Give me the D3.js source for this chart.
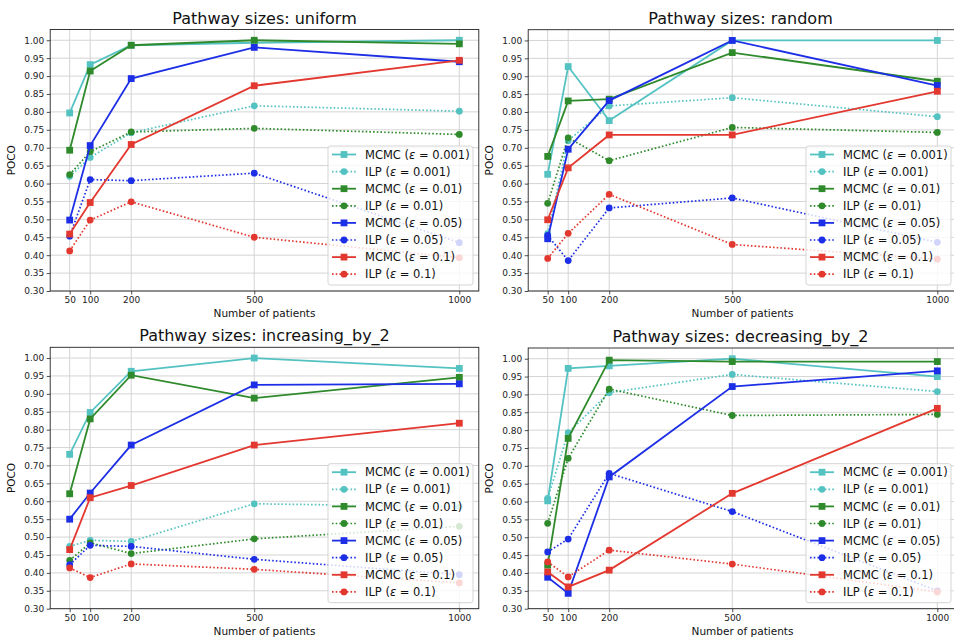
<!DOCTYPE html>
<html>
<head>
<meta charset="utf-8">
<script src="https://cdn.jsdelivr.net/npm/d3@7"></script>
<style>
  html, body { margin: 0; padding: 0; background: #fff; }
  svg { display: block; }
  text { font-family: "DejaVu Sans", sans-serif; }
</style>
</head>
<body>
<svg id="chart" width="954" height="637"></svg>
<script>
// ---------------- data ----------------
const patients = [50, 100, 200, 500, 1000];
const yTickValues = [0.30, 0.35, 0.40, 0.45, 0.50, 0.55, 0.60, 0.65, 0.70, 0.75, 0.80, 0.85, 0.90, 0.95, 1.00];
const panelTitles = ["Pathway sizes: uniform", "Pathway sizes: random", "Pathway sizes: increasing_by_2", "Pathway sizes: decreasing_by_2"];
const methods = ["MCMC", "ILP", "MCMC", "ILP", "MCMC", "ILP", "MCMC", "ILP"];
const epsilons = ["0.001", "0.001", "0.01", "0.01", "0.05", "0.05", "0.1", "0.1"];
const seriesColors = ["#55c2c2", "#55c2c2", "#2f8a2c", "#2f8a2c", "#1d2fe6", "#1d2fe6", "#e3382f", "#e3382f"];

// rows follow the legend order: MCMC .001, ILP .001, MCMC .01, ILP .01, MCMC .05, ILP .05, MCMC .1, ILP .1
const uniformValues = [
  [0.797, 0.932, 0.986, 0.993, 1.000],
  [0.620, 0.673, 0.742, 0.817, 0.802],
  [0.693, 0.914, 0.986, 1.000, 0.990],
  [0.625, 0.689, 0.744, 0.754, 0.737],
  [0.498, 0.706, 0.893, 0.980, 0.940],
  [0.453, 0.611, 0.608, 0.629, 0.435],
  [0.459, 0.547, 0.709, 0.873, 0.944],
  [0.412, 0.498, 0.549, 0.450, 0.393]
];
const randomValues = [
  [0.626, 0.927, 0.776, 1.000, 1.000],
  [0.460, 0.720, 0.817, 0.840, 0.787],
  [0.676, 0.831, 0.836, 0.966, 0.886],
  [0.545, 0.728, 0.664, 0.757, 0.743],
  [0.446, 0.696, 0.832, 1.000, 0.874],
  [0.455, 0.385, 0.532, 0.560, 0.436],
  [0.499, 0.644, 0.736, 0.736, 0.858],
  [0.391, 0.461, 0.570, 0.430, 0.389]
];
const increasingValues = [
  [0.731, 0.848, 0.963, 1.000, 0.971],
  [0.474, 0.491, 0.488, 0.593, 0.585],
  [0.621, 0.830, 0.952, 0.888, 0.946],
  [0.435, 0.484, 0.454, 0.495, 0.530],
  [0.550, 0.623, 0.757, 0.925, 0.928],
  [0.423, 0.477, 0.474, 0.438, 0.395],
  [0.465, 0.610, 0.644, 0.757, 0.818],
  [0.414, 0.387, 0.425, 0.410, 0.372]
];
const decreasingValues = [
  [0.602, 0.973, 0.980, 1.000, 0.950],
  [0.609, 0.793, 0.905, 0.956, 0.908],
  [0.422, 0.777, 0.996, 0.992, 0.992],
  [0.539, 0.721, 0.915, 0.841, 0.844],
  [0.388, 0.343, 0.669, 0.922, 0.966],
  [0.459, 0.495, 0.679, 0.572, 0.350],
  [0.403, 0.361, 0.408, 0.623, 0.861],
  [0.431, 0.389, 0.464, 0.425, 0.347]
];
const panelValues = [uniformValues, randomValues, increasingValues, decreasingValues];

// ---------------- layout ----------------
const layouts = [
  { left: 50.2,  right: 478.8, top: 29.5,  bottom: 291.0, legendRight: 473.0, labelX: 264.5 },
  { left: 528.2, right: 956.8, top: 29.7,  bottom: 291.0, legendRight: 951.0, labelX: 742.5 },
  { left: 50.2,  right: 478.8, top: 347.3, bottom: 608.7, legendRight: 473.0, labelX: 264.5 },
  { left: 528.2, right: 956.8, top: 348.0, bottom: 608.7, legendRight: 951.0, labelX: 742.5 }
];
const dotPattern = "1.6,2.1";

const svg = d3.select("#chart");

panelValues.forEach((values, pi) => {
  const L = layouts[pi];
  const x = d3.scaleLinear().domain([2.5, 1047.5]).range([L.left, L.right]);
  const y = d3.scaleLinear().domain([0.30, 1.03]).range([L.bottom, L.top]);
  const g = svg.append("g");

  // grid
  g.append("g").selectAll("line").data(yTickValues).join("line")
    .attr("x1", L.left).attr("x2", L.right)
    .attr("y1", d => y(d)).attr("y2", d => y(d))
    .attr("stroke", "#d4d4d4").attr("stroke-width", 1);
  g.append("g").selectAll("line").data(patients).join("line")
    .attr("y1", L.top).attr("y2", L.bottom)
    .attr("x1", d => x(d)).attr("x2", d => x(d))
    .attr("stroke", "#d4d4d4").attr("stroke-width", 1);

  // axes
  const yAxis = d3.axisLeft(y).tickValues(yTickValues).tickFormat(d3.format(".2f")).tickSize(3.5).tickPadding(2.5);
  const xAxis = d3.axisBottom(x).tickValues(patients).tickFormat(d3.format("d")).tickSize(3.5).tickPadding(2.5);
  const ya = g.append("g").attr("transform", `translate(${L.left},0)`).call(yAxis);
  const xa = g.append("g").attr("transform", `translate(0,${L.bottom})`).call(xAxis);
  [ya, xa].forEach(a => {
    a.select(".domain").remove();
    a.selectAll("text").attr("font-size", 9).attr("fill", "#222").attr("font-family", "DejaVu Sans");
    a.selectAll("line").attr("stroke", "#222").attr("stroke-width", 0.8);
  });

  // spines
  g.append("rect").attr("x", L.left).attr("y", L.top)
    .attr("width", L.right - L.left).attr("height", L.bottom - L.top)
    .attr("fill", "none").attr("stroke", "#222").attr("stroke-width", 0.9);

  // series
  const line = d3.line().x((d, i) => x(patients[i])).y(d => y(d));
  const data = g.append("g");
  values.forEach((row, si) => {
    const col = seriesColors[si];
    const isILP = methods[si] === "ILP";
    data.append("path").datum(row).attr("d", line)
      .attr("fill", "none").attr("stroke", col)
      .attr("stroke-width", isILP ? 1.7 : 1.8)
      .attr("stroke-dasharray", isILP ? dotPattern : null);
    if (isILP) {
      data.append("g").selectAll("circle").data(row).join("circle")
        .attr("cx", (d, i) => x(patients[i])).attr("cy", d => y(d))
        .attr("r", 3.4).attr("fill", col);
    } else {
      data.append("g").selectAll("rect").data(row).join("rect")
        .attr("x", (d, i) => x(patients[i]) - 3.4).attr("y", d => y(d) - 3.4)
        .attr("width", 6.8).attr("height", 6.8).attr("fill", col);
    }
  });

  // title and labels
  g.append("text").attr("x", (L.left + L.right) / 2 - (pi % 2 ? 2 : 0)).attr("y", L.top - 6)
    .attr("text-anchor", "middle").attr("font-size", 16).attr("fill", "#111")
    .text(panelTitles[pi]);
  g.append("text").attr("x", L.labelX)
    .attr("y", L.bottom + 26).attr("text-anchor", "middle")
    .attr("font-size", 10.5).attr("fill", "#111").text("Number of patients");
  const ly = (L.top + L.bottom) / 2;
  const lx = L.left - 35;
  g.append("text").attr("transform", `translate(${lx},${ly}) rotate(-90)`)
    .attr("text-anchor", "middle").attr("font-size", 10.5).attr("fill", "#111").text("POCO");

  // legend
  const lgW = 145, lgH = 139;
  const lgX = L.legendRight - lgW;
  const lgY = L.bottom - 6 - lgH;
  const lg = g.append("g").attr("transform", `translate(${lgX},${lgY})`);
  lg.append("rect").attr("width", lgW).attr("height", lgH).attr("rx", 2.5)
    .attr("fill", "#fff").attr("fill-opacity", 0.8)
    .attr("stroke", "#d0d0d0").attr("stroke-width", 0.9);
  methods.forEach((m, si) => {
    const cy = 8.5 + si * 17.1;
    const col = seriesColors[si];
    const isILP = m === "ILP";
    lg.append("line").attr("x1", 4).attr("x2", 28).attr("y1", cy).attr("y2", cy)
      .attr("stroke", col).attr("stroke-width", isILP ? 1.7 : 1.8)
      .attr("stroke-dasharray", isILP ? dotPattern : null);
    if (isILP) {
      lg.append("circle").attr("cx", 16).attr("cy", cy).attr("r", 3.4).attr("fill", col);
    } else {
      lg.append("rect").attr("x", 16 - 3.4).attr("y", cy - 3.4).attr("width", 6.8).attr("height", 6.8).attr("fill", col);
    }
    const t = lg.append("text").attr("x", 37).attr("y", cy + 4.2)
      .attr("font-size", 11.5).attr("fill", "#111");
    t.append("tspan").text(m + " (");
    t.append("tspan").attr("font-style", "italic").text("ε");
    t.append("tspan").text(" = " + epsilons[si] + ")");
  });
});
</script>
</body>
</html>
